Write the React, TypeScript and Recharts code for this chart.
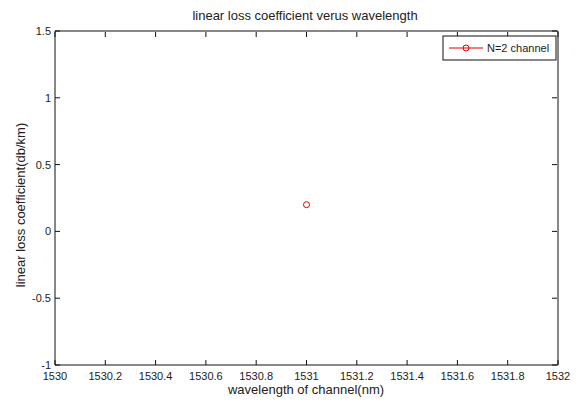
import React from 'react';
import { ComposedChart, Line, XAxis, YAxis } from 'recharts';

const wavelength = [1531];
const lossCoeff = [0.2];
const seriesName = 'N=2 channel';
const xTicks = [1530, 1530.2, 1530.4, 1530.6, 1530.8, 1531, 1531.2, 1531.4, 1531.6, 1531.8, 1532];
const yTicks = [-1, -0.5, 0, 0.5, 1, 1.5];
const titleText = 'linear loss coefficient verus wavelength';
const xLabel = 'wavelength of channel(nm)';
const yLabel = 'linear loss coefficient(db/km)';

const data = wavelength.map((w, i) => ({ w, v: lossCoeff[i] }));

const FONT = '"Liberation Sans", Arial, Helvetica, sans-serif';
const M = 4;
const TL = 5;
const AX = '#111';

const BottomTick = (props: any) => {
  const { x, y, payload } = props;
  const ay = y - M;
  return (
    <g>
      <line x1={x} x2={x} y1={ay} y2={ay - TL} stroke={AX} strokeWidth={1} />
      <text x={x} y={ay + 15} textAnchor="middle" fontSize={11} fontFamily={FONT} fill="#222">
        {String(payload.value)}
      </text>
    </g>
  );
};

const TopTick = (props: any) => {
  const { x, y } = props;
  const ay = y + M + 1;
  return <line x1={x} x2={x} y1={ay} y2={ay + TL} stroke={AX} strokeWidth={1} />;
};

const LeftTick = (props: any) => {
  const { x, y, payload } = props;
  const ax = x + M;
  return (
    <g>
      <line x1={ax} x2={ax + TL} y1={y} y2={y} stroke={AX} strokeWidth={1} />
      <text x={ax - 4} y={y + 4} textAnchor="end" fontSize={11} fontFamily={FONT} fill="#222">
        {String(payload.value)}
      </text>
    </g>
  );
};

const RightTick = (props: any) => {
  const { x, y } = props;
  const ax = x - M - 1;
  return <line x1={ax} x2={ax - TL} y1={y} y2={y} stroke={AX} strokeWidth={1} />;
};

export default function App() {
  return (
    <div style={{ position: 'absolute', left: 0, top: 0, width: 587, height: 403, background: '#fff' }}>
      <ComposedChart
        width={587}
        height={403}
        data={data}
        margin={{ top: 30, right: 28, bottom: 0, left: 0 }}
      >
        <XAxis
          xAxisId="b"
          dataKey="w"
          type="number"
          domain={[1530, 1532]}
          ticks={xTicks}
          interval={0}
          height={38}
          tickSize={0}
          tickMargin={M}
          tick={<BottomTick />}
          axisLine={{ stroke: AX }}
          tickLine={false}
          allowDataOverflow
        />
        <XAxis
          xAxisId="t"
          orientation="top"
          type="number"
          dataKey="w"
          domain={[1530, 1532]}
          ticks={xTicks}
          interval={0}
          height={1}
          tickSize={0}
          tickMargin={M}
          tick={<TopTick />}
          axisLine={{ stroke: AX }}
          tickLine={false}
          allowDataOverflow
        />
        <YAxis
          yAxisId="l"
          type="number"
          domain={[-1, 1.5]}
          ticks={yTicks}
          interval={0}
          width={55}
          tickSize={0}
          tickMargin={M}
          tick={<LeftTick />}
          axisLine={{ stroke: AX }}
          tickLine={false}
          allowDataOverflow
        />
        <YAxis
          yAxisId="r"
          orientation="right"
          type="number"
          domain={[-1, 1.5]}
          ticks={yTicks}
          interval={0}
          width={1}
          tickSize={0}
          tickMargin={M}
          tick={<RightTick />}
          axisLine={{ stroke: AX }}
          tickLine={false}
          allowDataOverflow
        />
        <Line
          xAxisId="b"
          yAxisId="l"
          dataKey="v"
          name={seriesName}
          stroke="#e00000"
          strokeWidth={1}
          dot={{ r: 3, stroke: '#e00000', strokeWidth: 1, fill: 'none' }}
          isAnimationActive={false}
        />
      </ComposedChart>
      <svg
        width={587}
        height={403}
        style={{ position: 'absolute', left: 0, top: 0, pointerEvents: 'none' }}
        fontFamily={FONT}
      >
        <text x={305} y={20} textAnchor="middle" fontSize={13} fill="#222">{titleText}</text>
        <text x={306} y={394} textAnchor="middle" fontSize={13} fill="#222">{xLabel}</text>
        <text
          x={25}
          y={205}
          textAnchor="middle"
          fontSize={13}
          fill="#222"
          transform="rotate(-90, 25, 205)"
        >
          {yLabel}
        </text>
        <g>
          <rect x={443} y={36} width={113} height={24} fill="#fff" stroke={AX} strokeWidth={1} />
          <line x1={449} x2={483} y1={48} y2={48} stroke="#e00000" strokeWidth={1} />
          <circle cx={466} cy={48} r={3} stroke="#e00000" strokeWidth={1} fill="none" />
          <text x={487} y={52} fontSize={11} fill="#222">{seriesName}</text>
        </g>
      </svg>
    </div>
  );
}
